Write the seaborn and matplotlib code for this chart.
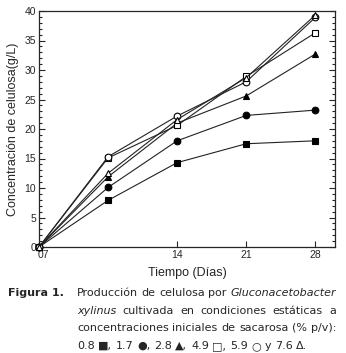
import matplotlib
matplotlib.use("Agg")
import matplotlib.pyplot as plt
from matplotlib.ticker import MultipleLocator
import matplotlib.transforms as mtransforms
import seaborn as sns
import pandas as pd

dias = [0, 7, 14, 21, 28]
sacarosa_08 = [0, 7.9, 14.3, 17.5, 18.0]
sacarosa_17 = [0, 10.1, 18.0, 22.3, 23.2]
sacarosa_28 = [0, 11.9, 21.0, 25.6, 32.7]
sacarosa_49 = [0, 15.1, 20.6, 28.9, 36.3]
sacarosa_59 = [0, 15.3, 22.2, 28.0, 38.9]
sacarosa_76 = [0, 12.5, 21.6, 28.7, 39.3]

x_ticks = [0, 14, 21, 28]
x_labels = ["07", "14", "21", "28"]

series = [
    ("0.8", sacarosa_08, "s", "black"),
    ("1.7", sacarosa_17, "o", "black"),
    ("2.8", sacarosa_28, "^", "black"),
    ("4.9", sacarosa_49, "s", "white"),
    ("5.9", sacarosa_59, "o", "white"),
    ("7.6", sacarosa_76, "^", "white"),
]

sns.set_style("ticks")
plt.rcParams["font.family"] = ["Liberation Sans", "DejaVu Sans"]

W, H = 346, 353
fig = plt.figure(figsize=(W / 100, H / 100), dpi=100)
ax = fig.add_axes([39 / W, 1 - 247 / H, 296 / W, 236 / H])

for name, vals, mk, fc in series:
    df = pd.DataFrame({"dia": dias, "conc": vals})
    sns.lineplot(data=df, x="dia", y="conc", ax=ax, color="#222222", lw=0.8,
                 marker=mk, markersize=4.8, markerfacecolor=fc,
                 markeredgecolor="black", markeredgewidth=0.8, clip_on=False,
                 zorder=3)

ax.set_xlim(0, 30)
ax.set_ylim(0, 40)
ax.set_xticks(x_ticks)
ax.set_xticklabels(x_labels)
ax.yaxis.set_major_locator(MultipleLocator(5))
ax.yaxis.set_minor_locator(MultipleLocator(1))
ax.tick_params(axis="both", which="both", direction="in", labelsize=7.5,
               width=0.8, pad=2, right=True)
ax.tick_params(axis="y", which="major", length=4)
ax.tick_params(axis="y", which="minor", length=2)
ax.tick_params(axis="x", which="major", length=4)
for s in ax.spines.values():
    s.set_linewidth(0.9)
first = ax.get_xticklabels()[0]
first.set_transform(first.get_transform() +
                    mtransforms.ScaledTranslation(4 / 100, 0, fig.dpi_scale_trans))
ax.set_xlabel("Tiempo (Días)", fontsize=9, labelpad=5)
ax.set_ylabel("Concentración de celulosa(g/L)", fontsize=9, labelpad=4)

# caption
fig.canvas.draw()
rend = fig.canvas.get_renderer()
cap_size = 8.0


def word(txt, x, y, style="normal", weight="normal"):
    t = fig.text(x / W, 1 - y / H, txt, fontsize=cap_size, family="DejaVu Sans",
                 style=style, weight=weight, va="center", ha="left")
    return t


def line(words, y, x0, x1=None):
    objs = [word(w, x0, y, st) for w, st in words]
    widths = [o.get_window_extent(rend).width for o in objs]
    if x1 is None:
        gap = cap_size * 100 / 72 * 0.32
    else:
        gap = (x1 - x0 - sum(widths)) / (len(objs) - 1)
    x = x0
    for o, w in zip(objs, widths):
        o.set_x(x / W)
        x += w + gap


word("Figura 1.", 8, 293, weight="bold")
l1 = [(w, "normal") for w in "Producción de celulosa por".split()] + [("Gluconacetobacter", "italic")]
line(l1, 293, 77, 336)
l2 = [("xylinus", "italic")] + [(w, "normal") for w in "cultivada en condiciones estáticas a".split()]
line(l2, 311, 77, 336)
l3 = [(w, "normal") for w in "concentraciones iniciales de sacarosa (% p/v):".split()]
line(l3, 328, 77, 336)
l4 = [(w, "normal") for w in "0.8 ■, 1.7 ●, 2.8 ▲, 4.9 □, 5.9 ○ y 7.6 Δ.".split()]
line(l4, 346, 77)

fig.savefig("out.png", dpi=100)
